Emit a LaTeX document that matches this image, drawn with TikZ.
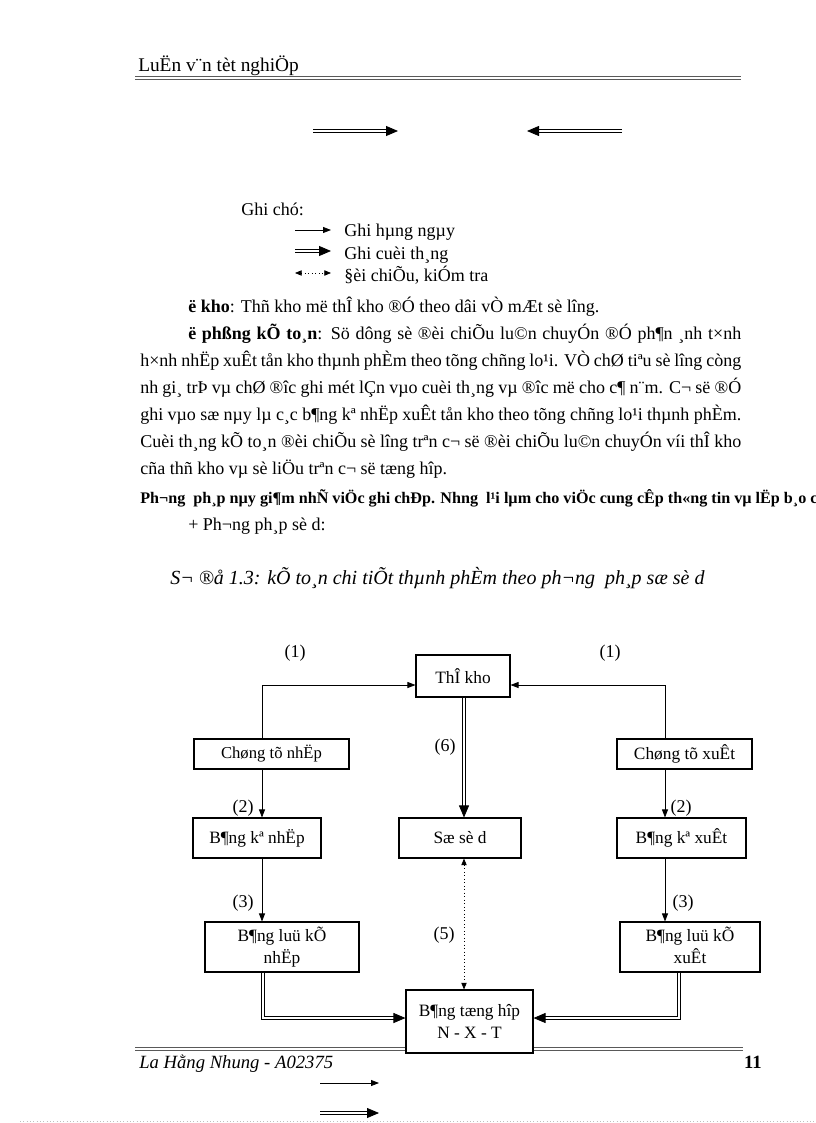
\documentclass[tikz,border=0pt]{standalone}
\usepackage{fontspec}
\setmainfont{Liberation Serif}
\usetikzlibrary{arrows.meta}
\begin{document}
\begin{tikzpicture}[x=0.75pt,y=-0.75pt,
  box/.style={draw, line width=0.8pt, fill=white, inner sep=0pt, align=center, font=\fontsize{13}{17}\selectfont},
  lbl/.style={inner sep=0pt, font=\fontsize{13.5}{16}\selectfont},
  txt/.style={anchor=base west, inner sep=0pt, font=\fontsize{13.5}{16}\selectfont},
  sarr/.style={line width=0.6pt, -{Triangle[length=6pt,width=4.5pt]}},
  darr/.style={double, double distance=1.4pt, line width=0.6pt, -{Triangle[length=9pt,width=7.5pt]}},
  dotarr/.style={line width=0.6pt, dotted, {Triangle[length=5pt,width=4pt]}-{Triangle[length=5pt,width=4pt]}},
  rule/.style={line width=1pt, black!65},
]
\useasboundingbox (0,0) rectangle (816,1123);

% header
\node[txt, font=\fontsize{14.5}{17}\selectfont] (hdr) at (138,72) {LuËn v¨n tèt nghiÖp};
\draw[rule] (135,76.5) -- (741,76.5);
\draw[rule] (135,79.5) -- (741,79.5);

% top arrows
\coordinate (ta1) at (313,131); \coordinate (ta2) at (398,131);
\coordinate (tb1) at (622,131); \coordinate (tb2) at (527,131);
\draw[darr] (ta1) -- (ta2);
\draw[darr] (tb1) -- (tb2);

% legend
\node[txt] (gc) at (241,216) {Ghi chó:};
\coordinate (l1a) at (295,230); \coordinate (l1b) at (331,230);
\coordinate (l2a) at (295,251); \coordinate (l2b) at (331,251);
\coordinate (l3a) at (295,273); \coordinate (l3b) at (331,273);
\draw[sarr] (l1a) -- (l1b);
\draw[darr] (l2a) -- (l2b);
\draw[dotarr] (l3a) -- (l3b);
\node[txt] (lg1) at (344,237) {Ghi hµng ngµy};
\node[txt] (lg2) at (344,259) {Ghi cuèi th¸ng};
\node[txt] (lg3) at (344,281) {§èi chiÕu, kiÓm tra};

% paragraphs
\node[txt] (p0) at (188,312) {\textbf{ë kho}: Thñ kho më thÎ kho ®Ó theo dâi vÒ mÆt sè lîng.};
\node[txt] (p1) at (188,339) {\makebox[414.75pt][s]{\textbf{ë phßng kÕ to¸n}: Sö dông sè ®èi chiÕu lu©n chuyÓn ®Ó ph¶n ¸nh t×nh}};
\node[txt] (p2) at (140,366) {\makebox[450.75pt][s]{h×nh nhËp xuÊt tån kho thµnh phÈm theo tõng chñng lo¹i. VÒ chØ tiªu sè lîng còng}};
\node[txt] (p3) at (140,393) {\makebox[450.75pt][s]{nh gi¸ trÞ vµ chØ ®îc ghi mét lÇn vµo cuèi th¸ng vµ ®îc më cho c¶ n¨m. C¬ së ®Ó}};
\node[txt] (p4) at (140,420) {\makebox[450.75pt][s]{ghi vµo sæ nµy lµ c¸c b¶ng kª nhËp xuÊt tån kho theo tõng chñng lo¹i thµnh phÈm.}};
\node[txt] (p5) at (140,447) {\makebox[450.75pt][s]{Cuèi th¸ng kÕ to¸n ®èi chiÕu sè lîng trªn c¬ së ®èi chiÕu lu©n chuyÓn víi thÎ kho}};
\node[txt] (p6) at (140,474) {cña thñ kho vµ sè liÖu trªn c¬ së tæng hîp.};
\node[txt, font=\fontsize{12.1}{14}\selectfont\bfseries] (p7) at (140,503) {Ph¬ng \ ph¸p nµy gi¶m nhÑ viÖc ghi chÐp. Nhng \ l¹i lµm cho viÖc cung cÊp th«ng tin vµ lËp b¸o c};
\node[txt] (p8) at (188,530) {+ Ph¬ng ph¸p sè d:};

% caption
\node[txt, font=\fontsize{15}{17}\selectfont\itshape] (cap) at (170,584) {S¬ ®å 1.3: kÕ to¸n chi tiÕt thµnh phÈm theo ph¬ng \ ph¸p sæ sè d};

% footer rules (behind the box)
\draw[rule] (135,1047.5) -- (743,1047.5);
\draw[rule] (135,1050.5) -- (743,1050.5);

% boxes
\node[box, minimum width=70.5pt, minimum height=31.5pt] (tk) at (463,676) {ThÎ kho};
\node[box, minimum width=116.25pt, minimum height=22.5pt, font=\fontsize{12.5}{15}\selectfont] (ctn) at (271.5,754) {Chøng tõ nhËp};
\node[box, minimum width=101.25pt, minimum height=22.5pt] (ctx) at (684.5,754) {Chøng tõ xuÊt};
\node[box, minimum width=96pt, minimum height=30pt] (bkn) at (257,838) {B¶ng kª nhËp};
\node[box, minimum width=91.5pt, minimum height=30pt] (ssd) at (460,838) {Sæ sè d};
\node[box, minimum width=96.75pt, minimum height=30pt] (bkx) at (681.5,838) {B¶ng kª xuÊt};
\node[box, minimum width=115.5pt, minimum height=37.5pt, font=\fontsize{13}{16.5}\selectfont, text depth=3pt] (lkn) at (282,947) {B¶ng luü kÕ\\nhËp};
\node[box, minimum width=105pt, minimum height=37.5pt, font=\fontsize{13}{16.5}\selectfont, text depth=3pt] (lkx) at (690,947) {B¶ng luü kÕ\\xuÊt};
\node[box, minimum width=95.25pt, minimum height=47.25pt] (bth) at (469.5,1021.5) {B¶ng tæng hîp\\N - X - T};

% reference coordinates for connector positions
\coordinate (xl) at (262,0);
\coordinate (xr) at (665,0);
\coordinate (xdl) at (263,0);
\coordinate (xdr) at (679,0);
\coordinate (xm) at (464,0);
\coordinate (ya) at (0,685);
\coordinate (yb) at (0,1018);

% connectors
\draw[sarr] (xl |- ctn.north) |- (tk.west |- ya);
\draw[sarr] (xr |- ctx.north) |- (tk.east |- ya);
\draw[darr] (xm |- tk.south) -- (xm |- ssd.north);
\draw[sarr] (xl |- ctn.south) -- (xl |- bkn.north);
\draw[sarr] (xr |- ctx.south) -- (xr |- bkx.north);
\draw[sarr] (xl |- bkn.south) -- (xl |- lkn.north);
\draw[sarr] (xr |- bkx.south) -- (xr |- lkx.north);
\draw[dotarr] (xm |- ssd.south) -- (xm |- bth.north);
\draw[darr] (xdl |- lkn.south) |- (bth.west |- yb);
\draw[darr] (xdr |- lkx.south) |- (bth.east |- yb);

% labels
\node[lbl] (n1a) at (295,653) {(1)};
\node[lbl] (n1b) at (610,653) {(1)};
\node[lbl] (n6) at (445,747) {(6)};
\node[lbl] (n2a) at (243,808) {(2)};
\node[lbl] (n2b) at (681,808) {(2)};
\node[lbl] (n3a) at (243,903) {(3)};
\node[lbl] (n3b) at (683,903) {(3)};
\node[lbl] (n5) at (444,935) {(5)};

% footer
\node[txt, font=\fontsize{14}{16}\selectfont\itshape] (ft) at (139,1068) {La Hằng Nhung - A02375};
\node[anchor=base east, inner sep=0pt, font=\fontsize{14}{16}\selectfont\bfseries] (pg) at (762,1068) {11};

% bottom arrows
\coordinate (b1a) at (320,1083); \coordinate (b1b) at (379,1083);
\coordinate (b2a) at (320,1113); \coordinate (b2b) at (379,1113);
\draw[sarr] (b1a) -- (b1b);
\draw[darr] (b2a) -- (b2b);
\draw[black!25, dotted, line width=0.5pt] (20,1121) -- (816,1121);
\end{tikzpicture}
\end{document}
